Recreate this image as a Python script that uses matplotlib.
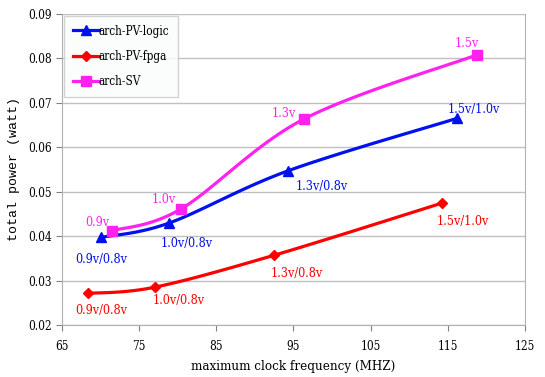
import numpy as np
import matplotlib
matplotlib.use("Agg")
import matplotlib.pyplot as plt
from matplotlib.lines import Line2D

# data
freq_logic = [70.0, 78.8, 94.3, 116.2]
pow_logic = [0.0397, 0.0429, 0.0547, 0.0665]
lab_logic = ["0.9v/0.8v", "1.0v/0.8v", "1.3v/0.8v", "1.5v/1.0v"]

freq_fpga = [68.3, 77.0, 92.5, 114.2]
pow_fpga = [0.0271, 0.0285, 0.0357, 0.0474]
lab_fpga = ["0.9v/0.8v", "1.0v/0.8v", "1.3v/0.8v", "1.5v/1.0v"]

freq_sv = [71.5, 80.4, 96.3, 118.8]
pow_sv = [0.0412, 0.0461, 0.0663, 0.0808]
lab_sv = ["0.9v", "1.0v", "1.3v", "1.5v"]

xticks = [65, 75, 85, 95, 105, 115, 125]
yticks = [0.02, 0.03, 0.04, 0.05, 0.06, 0.07, 0.08, 0.09]

FONT = dict(family="DejaVu Serif", fontstretch="condensed")


def smooth(xs, ys, sx=60.0, sy=0.07, n=40):
    # excel-like smoothed line (bezier with catmull-rom control points)
    p = np.column_stack([np.array(xs) / sx, np.array(ys) / sy])
    out = []
    for i in range(len(p) - 1):
        p0 = p[i - 1] if i > 0 else p[i]
        p3 = p[i + 2] if i + 2 < len(p) else p[i + 1]
        p1, p2 = p[i], p[i + 1]
        c1 = p1 + (p2 - p0) / 6.0
        c2 = p2 - (p3 - p1) / 6.0
        t = np.linspace(0, 1, n)[:, None]
        seg = ((1 - t) ** 3) * p1 + 3 * ((1 - t) ** 2) * t * c1 + 3 * (1 - t) * t ** 2 * c2 + t ** 3 * p2
        out.append(seg)
    seg = np.vstack(out)
    return seg[:, 0] * sx, seg[:, 1] * sy


fig = plt.figure(figsize=(5.45, 3.77), dpi=100)
ax = fig.add_axes([0.114, 0.138, 0.849, 0.825])

series = [
    (freq_logic, pow_logic, lab_logic, "#0010ee", "^", 7, "arch-PV-logic",
     [(1, -22), (18, -20), (34, -16), (17, 9)]),
    (freq_fpga, pow_fpga, lab_fpga, "#ff0000", "D", 5, "arch-PV-fpga",
     [(14, -17), (24, -13), (23, -18), (21, -18)]),
    (freq_sv, pow_sv, lab_sv, "#ff22ee", "s", 7, "arch-SV",
     [(-15, 8), (-17, 10), (-20, 6), (-10, 11)]),
]

handles = []
for xs, ys, labs, col, mk, ms, name, offs in series:
    sx, sy = smooth(xs, ys)
    ax.plot(sx, sy, color=col, lw=2.3, zorder=3, solid_capstyle="round")
    ax.plot(xs, ys, ls="none", marker=mk, ms=ms, color=col, zorder=4)
    for x, y, t, (dx, dy) in zip(xs, ys, labs, offs):
        ax.annotate(t, (x, y), xytext=(dx * 0.72, dy * 0.72), textcoords="offset points",
                    ha="center", va="center", color=col, fontsize=9, **FONT)
    handles.append(Line2D([], [], color=col, lw=2.3, marker=mk, ms=ms, label=name))

ax.set_xlim(65, 125)
ax.set_ylim(0.02, 0.09)
ax.set_xticks(xticks)
ax.set_yticks(yticks)
ax.set_yticklabels(["%.2f" % v for v in yticks])
ax.grid(axis="y", color="#c0c0c0", lw=1)
ax.set_axisbelow(True)
ax.spines["top"].set_visible(False)
for s in ["left", "bottom", "right"]:
    ax.spines[s].set_color("#b0b0b0")
ax.tick_params(axis="both", colors="#808080", labelcolor="black", labelsize=8.5, length=4)
ax.tick_params(axis="x", pad=7)
for lb in ax.get_xticklabels() + ax.get_yticklabels():
    lb.set_family("DejaVu Serif")
    lb.set_fontstretch("condensed")

ax.set_xlabel("maximum clock frequency (MHZ)", fontsize=9.5, labelpad=5, **FONT)
ax.set_ylabel("total power (watt)", fontsize=9.5, labelpad=6, family="Liberation Mono")

leg = ax.legend(handles=handles, loc="upper left", bbox_to_anchor=(0.0, 1.0),
                frameon=True, fancybox=False, handlelength=2.2, borderaxespad=0.2,
                handletextpad=0.0, labelspacing=1.05, borderpad=0.7,
                prop=dict(family="DejaVu Serif", stretch="condensed", size=8.5))
leg.get_frame().set_edgecolor("#c8c8c8")
leg.get_frame().set_facecolor("#fbfdfd")

fig.savefig("out.png", dpi=100)
